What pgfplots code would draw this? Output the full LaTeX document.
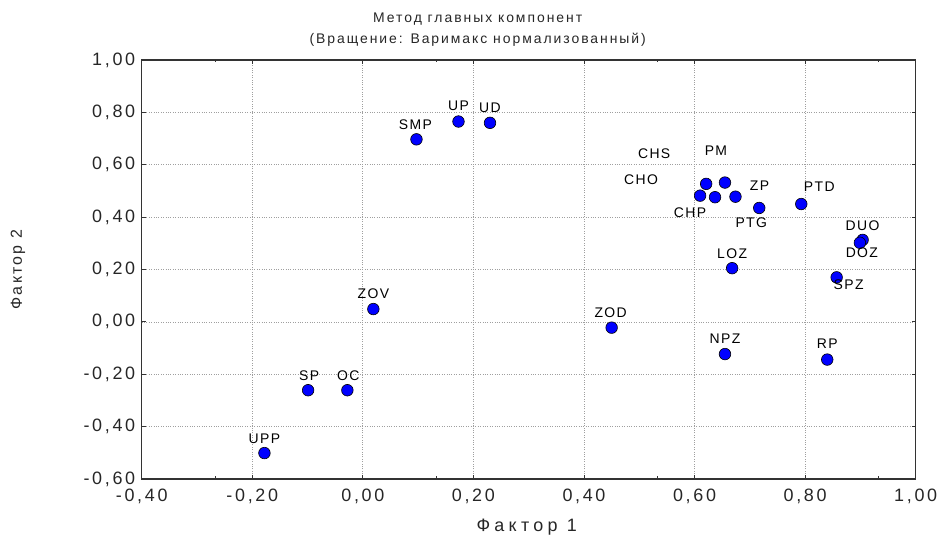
\documentclass[border=0pt]{standalone}
\usepackage{fontspec}
\setmainfont{Liberation Sans}
\newfontfamily\tickfont[LetterSpace=15]{Liberation Sans}
\newfontfamily\lblfont[LetterSpace=10]{Liberation Sans}
\newfontfamily\titlefont[LetterSpace=14]{Liberation Sans}
\newfontfamily\xlabfont[LetterSpace=24]{Liberation Sans}
\usepackage{pgfplots}
\usepackage{pgfplotstable}
\pgfplotsset{compat=1.18}

\pgfplotstableread{
x y lab dx dy
-0.178 -0.501 UPP 0 14
-0.099 -0.261 SP 1 15
-0.028 -0.261 OC 1 15
0.019 0.049 ZOV 0 15
0.450 -0.022 ZOD -1 15
0.097 0.697 SMP -1 15
0.173 0.765 UP 0 16
0.230 0.760 UD 0 15
0.621 0.527 CHS -52 30
0.655 0.532 PM -9 32
0.610 0.482 CHO -59 16
0.637 0.476 CHP -25 -15
0.674 0.478 ZP 24 11
0.717 0.435 PTG -8 -15
0.793 0.450 PTD 18 17
0.904 0.313 DUO 0 14
0.899 0.302 DOZ 2 -10
0.668 0.205 LOZ 0 14
0.857 0.170 SPZ 12 -7
0.655 -0.123 NPZ 0 15
0.840 -0.144 RP 0 16
}\pts

\definecolor{ptblue}{RGB}{0,0,255}

\begin{document}
\begin{tikzpicture}
\path[use as bounding box] (-141.7bp,-59bp) rectangle (797.3bp,479bp);
\begin{axis}[
  at={(0,0)}, anchor=south west,
  scale only axis,
  width=774bp, height=419bp,
  xmin=-0.4, xmax=1.0, ymin=-0.6, ymax=1.0,
  xtick={-0.4,-0.2,0,0.2,0.4,0.6,0.8,1.0},
  ytick={-0.6,-0.4,-0.2,0,0.2,0.4,0.6,0.8,1.0},
  extra x ticks={-0.2667,0.1333,0.5333,0.9333},
  extra x tick labels={},
  extra x tick style={grid=none, major tick length=2.5bp},
  grid=major,
  grid style={gray!75, line width=0.7bp, dash pattern=on 1bp off 1.4bp},
  axis line style={black!80, line width=1.3bp},
  tick align=inside,
  major tick length=4bp,
  tick style={black!80, line width=0.9bp},
  /pgf/number format/assume math mode=true,
  /pgf/number format/.cd, fixed, fixed zerofill, precision=2, use comma,
  /pgfplots/.cd,
  tick label style={font=\tickfont\fontsize{18}{18}\selectfont, text=black!85},
  yticklabel style={xshift=-3bp},
  xticklabel style={yshift=-6bp},
]
\addplot[only marks, mark=*, mark size=5.8bp,
  mark options={fill=ptblue, draw=black, line width=0.6bp},
  nodes near coords,
  point meta=explicit symbolic,
  visualization depends on={\thisrow{dx} \as \ddx},
  visualization depends on={\thisrow{dy} \as \ddy},
  nodes near coords style={anchor=center, xshift=\ddx*1bp, yshift=\ddy*1bp,
    font=\lblfont\fontsize{14}{14}\selectfont, text=black, inner sep=0pt},
] table[x=x, y=y, meta=lab] {\pts};
\end{axis}
\node[font=\titlefont\fontsize{14}{21}\selectfont, align=center, text=black!85]
  at (336bp, 449.5bp) {Метод главных компонент\\(Вращение: Варимакс нормализованный)};
\node[font=\xlabfont\fontsize{18}{18}\selectfont, text=black!85] at (385bp,-48bp) {Фактор 1};
\node[font=\titlefont\fontsize{16}{16}\selectfont, text=black!85, rotate=90] at (-123.7bp,209.5bp) {Фактор 2};
\end{tikzpicture}
\end{document}
